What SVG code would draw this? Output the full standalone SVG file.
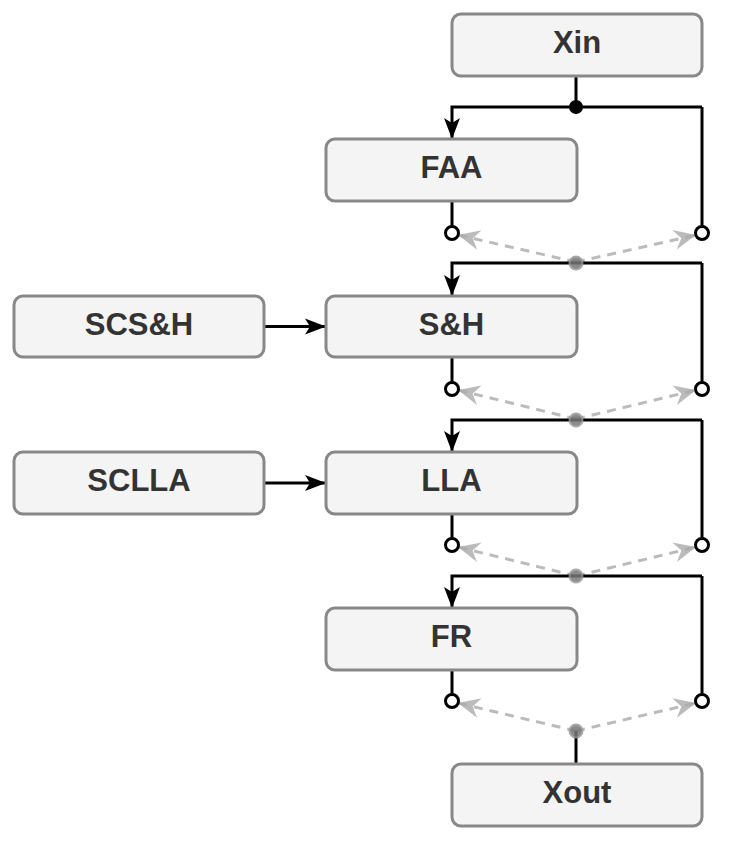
<svg xmlns="http://www.w3.org/2000/svg" width="747" height="853" viewBox="0 0 747 853">
<defs>
<style>
.box rect{fill:#f4f4f4;stroke:#888;stroke-width:3}
.box text{font-family:"Liberation Sans",Arial,sans-serif;font-weight:bold;font-size:31px;fill:#333;text-anchor:middle}
.w{fill:none;stroke:#000;stroke-width:3}
.d{fill:none;stroke:#bbb;stroke-width:3;stroke-dasharray:9,7}
.oc{fill:#fff;stroke:#000;stroke-width:3}
.gd{fill:#777;stroke:#999;stroke-width:2;opacity:0.85}
</style>
<marker id="ga" viewBox="0 0 24 24" refX="22" refY="12" markerWidth="24" markerHeight="24" markerUnits="userSpaceOnUse" orient="auto">
<path d="M0,2 L22,12 L0,22 L7,12 Z" fill="#aaa" opacity="0.8"/>
</marker>
<marker id="ba" viewBox="0 0 22 22" refX="21" refY="11" markerWidth="22" markerHeight="22" markerUnits="userSpaceOnUse" orient="auto">
<path d="M0,3 L21,11 L0,19 L5,11 Z" fill="#000"/>
</marker>
</defs>
<rect width="747" height="853" fill="#fff"/>
<g id="connectors">
<path class="w" d="M576,76 V107"/>
<path class="w" d="M702,107 H452 V139" marker-end="url(#ba)"/>
<path class="w" d="M702,107 V227"/>
<path class="w" d="M452,201 V227"/>
<path class="d" d="M576,262 L458,235" marker-end="url(#ga)"/>
<path class="d" d="M576,262 L696,235" marker-end="url(#ga)"/>
<path class="w" d="M702,263 H452 V296" marker-end="url(#ba)"/>
<path class="w" d="M702,263 V382"/>
<path class="w" d="M452,357 V382"/>
<path class="d" d="M576,419 L458,390" marker-end="url(#ga)"/>
<path class="d" d="M576,419 L696,390" marker-end="url(#ga)"/>
<path class="w" d="M702,420 H452 V452" marker-end="url(#ba)"/>
<path class="w" d="M702,420 V539"/>
<path class="w" d="M452,514 V539"/>
<path class="d" d="M576,576 L458,547" marker-end="url(#ga)"/>
<path class="d" d="M576,576 L696,547" marker-end="url(#ga)"/>
<path class="w" d="M702,576 H452 V608" marker-end="url(#ba)"/>
<path class="w" d="M702,576 V695"/>
<path class="w" d="M452,670 V695"/>
<path class="d" d="M576,731 L458,703" marker-end="url(#ga)"/>
<path class="d" d="M576,731 L696,703" marker-end="url(#ga)"/>
<path class="w" d="M576,731 V764"/>
<path class="w" d="M264,326.5 H326" marker-end="url(#ba)"/>
<path class="w" d="M264,483 H326" marker-end="url(#ba)"/>
<circle cx="576" cy="107" r="7" fill="#000"/>
<circle class="oc" cx="452" cy="233" r="6.5"/>
<circle class="oc" cx="702" cy="233" r="6.5"/>
<circle class="gd" cx="576" cy="263" r="6.5"/>
<circle class="oc" cx="452" cy="389" r="6.5"/>
<circle class="oc" cx="702" cy="389" r="6.5"/>
<circle class="gd" cx="576" cy="420" r="6.5"/>
<circle class="oc" cx="452" cy="545" r="6.5"/>
<circle class="oc" cx="702" cy="545" r="6.5"/>
<circle class="gd" cx="576" cy="576" r="6.5"/>
<circle class="oc" cx="452" cy="701" r="6.5"/>
<circle class="oc" cx="702" cy="701" r="6.5"/>
<circle class="gd" cx="576" cy="731" r="6.5"/>
</g>
<g id="Xin" class="box"><rect x="452" y="14" width="250" height="62" rx="9"/><text x="577" y="53">Xin</text></g>
<g id="FAA" class="box"><rect x="326" y="139" width="251" height="62" rx="9"/><text x="451.5" y="178">FAA</text></g>
<g id="SCSH" class="box"><rect x="14" y="296" width="250" height="61" rx="9"/><text x="139" y="335">SCS&amp;H</text></g>
<g id="SH" class="box"><rect x="326" y="296" width="251" height="61" rx="9"/><text x="451.5" y="335">S&amp;H</text></g>
<g id="SCLLA" class="box"><rect x="14" y="452" width="250" height="62" rx="9"/><text x="139" y="491">SCLLA</text></g>
<g id="LLA" class="box"><rect x="326" y="452" width="251" height="62" rx="9"/><text x="451.5" y="491">LLA</text></g>
<g id="FR" class="box"><rect x="326" y="608" width="251" height="62" rx="9"/><text x="451.5" y="647">FR</text></g>
<g id="Xout" class="box"><rect x="452" y="764" width="250" height="62" rx="9"/><text x="577" y="803">Xout</text></g>
</svg>
